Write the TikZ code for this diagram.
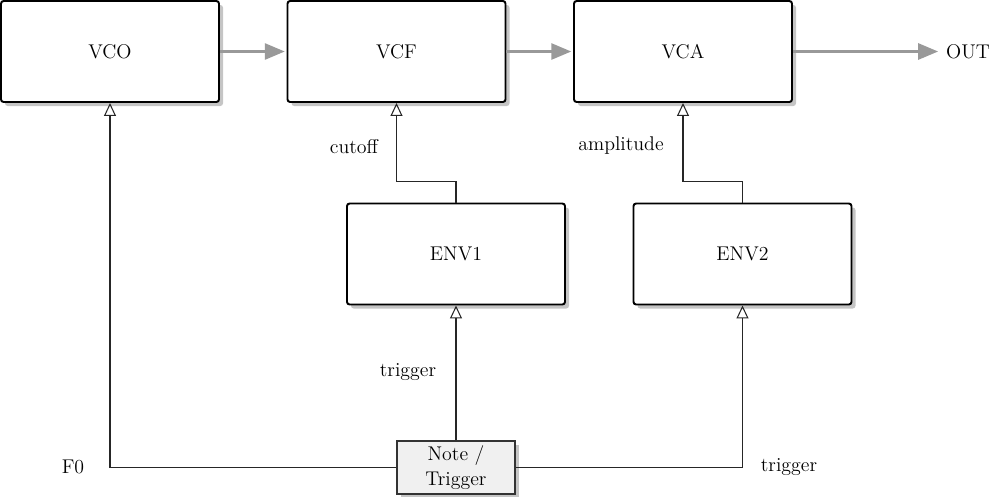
\documentclass[tikz,border=0pt]{standalone}
\usepackage{amsmath}
\usepackage{tikz}
\usetikzlibrary{positioning,arrows.meta,shadows}

\begin{document}
\begin{tikzpicture}[node distance=5.73cm,on grid,
    every node/.style={font=\fontsize{11.3}{14}\selectfont},
    block/.style={draw,line width=1.1pt,rounded corners=1.5pt,fill=white,
      minimum width=4.36cm,minimum height=2.02cm,
      drop shadow={shadow xshift=0.08cm,shadow yshift=-0.08cm,fill=black!45,opacity=0.5}},
    notebox/.style={draw=black!80,line width=0.6pt,fill=black!6,align=center,
      minimum width=2.36cm,minimum height=1.06cm,inner sep=1pt,
      drop shadow={shadow xshift=0.08cm,shadow yshift=-0.08cm,fill=black!45,opacity=0.5}},
    audio/.style={draw=black!40,line width=1.6pt,shorten >=1pt,
      -{Triangle[length=0.4cm,width=0.32cm]}},
    ctrl/.style={draw=black!85,line width=0.6pt,
      -{Triangle[open,length=0.26cm,width=0.24cm]}}]
  \useasboundingbox (0,0) rectangle (20,-9.92);
  \node[block] (vco) at (2.2,-1.03) {VCO};
  \node[block] (vcf) [right=of vco] {VCF};
  \node[block] (vca) [right=of vcf] {VCA};
  \node (out) at (19.36,-1.03) {OUT};
  \node[block] (env1) at (9.12,-5.08) {ENV1};
  \node[block] (env2) at (14.85,-5.08) {ENV2};
  \node[notebox] (note) at (9.12,-9.35) {Note /\\ Trigger};
  % labels
  \node (f0) at (1.46,-9.34) {F0};
  \node (trig1) at (8.16,-7.44) {trigger};
  \node (trig2) at (15.78,-9.34) {trigger};
  \node (cut) at (7.08,-2.94) {cutoff};
  \node (amp) at (12.42,-2.92) {amplitude};
  % audio path
  \path[audio] (vco) -- (vcf);
  \path[audio] (vcf) -- (vca);
  \path[audio] (vca) -- (out);
  % control path
  \path[ctrl] (note.west) -| (vco.south);
  \path[ctrl] (note.north) -- (env1.south);
  \path[ctrl] (note.east) -| (env2.south);
  \path[ctrl] (env1.north) -- ++(0,0.43) -| (vcf.south);
  \path[ctrl] (env2.north) -- ++(0,0.43) -| (vca.south);
\end{tikzpicture}
\end{document}
